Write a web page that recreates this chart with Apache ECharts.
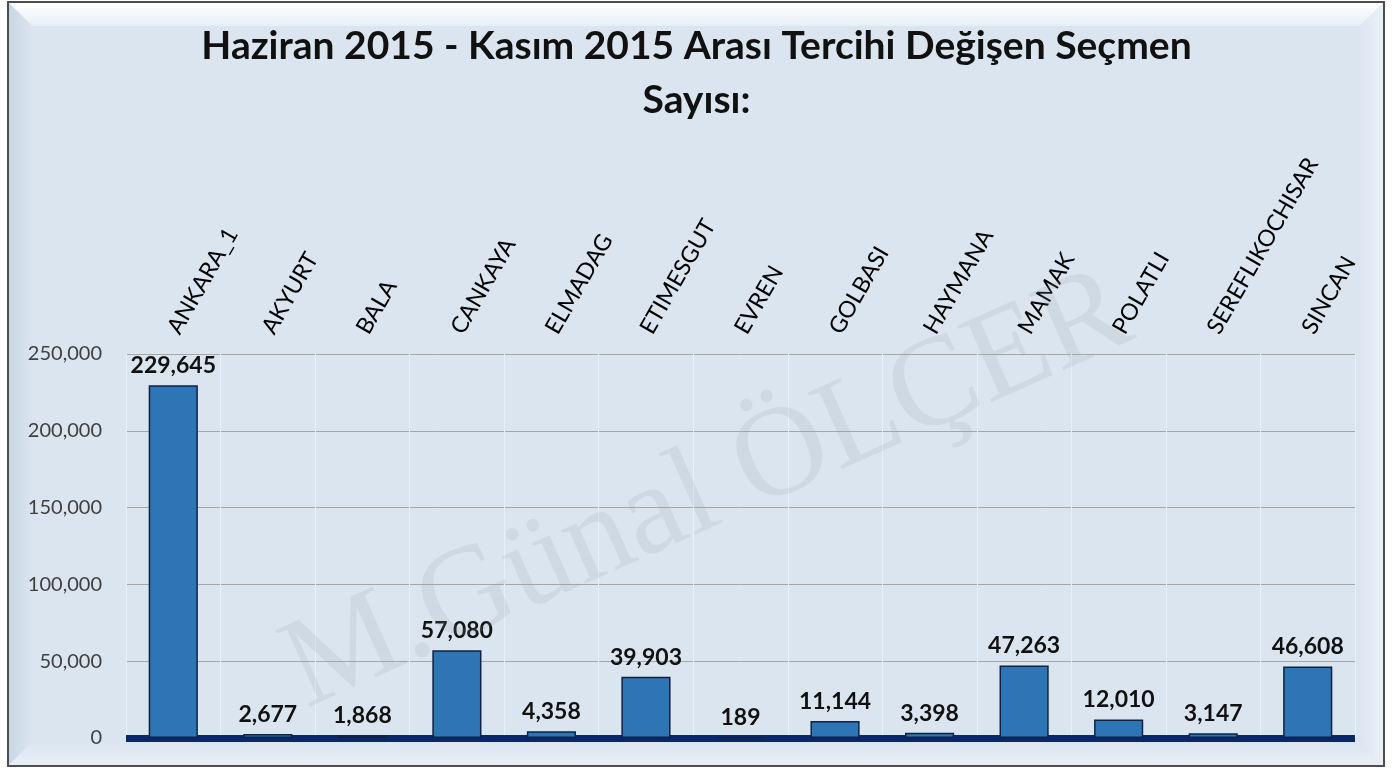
<!DOCTYPE html>
<html>
<head>
<meta charset="utf-8">
<script src="https://cdn.jsdelivr.net/npm/echarts@6/dist/echarts.min.js"></script>
<style>
html,body{margin:0;padding:0;background:#ffffff;}
#chart{width:1393px;height:769px;}
</style>
</head>
<body>
<div id="chart"></div>
<script>
const titleText = 'Haziran 2015 - Kasım 2015 Arası Tercihi Değişen Seçmen\nSayısı:';
const categories = ['ANKARA_1','AKYURT','BALA','CANKAYA','ELMADAG','ETIMESGUT','EVREN','GOLBASI','HAYMANA','MAMAK','POLATLI','SEREFLIKOCHISAR','SINCAN'];
const values = [229645, 2677, 1868, 57080, 4358, 39903, 189, 11144, 3398, 47263, 12010, 3147, 46608];
const yTicks = [0, 50000, 100000, 150000, 200000, 250000];
const watermark = 'M.Günal ÖLÇER';

const fmt = v => v.toLocaleString('en-US');
const chart = echarts.init(document.getElementById('chart'), null, {renderer:'canvas'});
chart.setOption({
  backgroundColor: '#ffffff',
  animation: false,
  graphic: [
    {type:'rect', z:-100, shape:{x:8,y:2,width:1376,height:764}, style:{fill:'#dbe5f0', stroke:'#4d4d4d', lineWidth:2}},
    {type:'polygon', z:-99, shape:{points:[[9,3],[1383,3],[1360,26],[32,26]]},
      style:{fill:new echarts.graphic.LinearGradient(0,0,0,1,[{offset:0,color:'#ffffff'},{offset:1,color:'#e6eef6'}])}},
    {type:'polygon', z:-99, shape:{points:[[9,3],[32,26],[32,742],[9,765]]},
      style:{fill:new echarts.graphic.LinearGradient(0,0,1,0,[{offset:0,color:'#c9d6e4'},{offset:1,color:'#dbe5f0'}])}},
    {type:'polygon', z:-99, shape:{points:[[1383,3],[1383,765],[1360,742],[1360,26]]},
      style:{fill:new echarts.graphic.LinearGradient(0,0,1,0,[{offset:0,color:'#dde7f2'},{offset:1,color:'#e9f0f7'}])}},
    {type:'polygon', z:-99, shape:{points:[[9,765],[1383,765],[1360,742],[32,742]]},
      style:{fill:new echarts.graphic.LinearGradient(0,0,0,1,[{offset:0,color:'#dbe5f0'},{offset:1,color:'#e8eff7'}])}},
    {type:'text', z:100, x:708, y:492, rotation:0.42, silent:true,
      style:{text:watermark, font:'128px "Liberation Serif"', fill:'rgba(150,155,165,0.16)', align:'center', verticalAlign:'middle'}}
  ],
  title: {
    text: titleText, left:'center', top:14,
    textStyle:{fontFamily:'Lato', fontWeight:'bold', fontSize:39, lineHeight:54, color:'#111111'}
  },
  grid: {left:126, right:38, top:354, bottom:31, containLabel:false},
  xAxis: [
    {type:'category', data:categories, position:'top',
      axisLine:{show:false}, axisTick:{show:false},
      axisLabel:{rotate:60, margin:22, interval:0, fontFamily:'Lato', fontSize:23, color:'#000000'},
      splitLine:{show:true, lineStyle:{color:'#e9eff6', width:1}}},
    {type:'category', data:categories, position:'bottom',
      axisLine:{show:true, lineStyle:{color:'#0b2866', width:7, cap:'butt'}}, axisTick:{show:false}, axisLabel:{show:false}}
  ],
  yAxis: {
    type:'value', min:0, max:250000, interval:50000,
    axisLine:{show:false}, axisTick:{show:false},
    axisLabel:{formatter:v=>fmt(v), margin:24, fontFamily:'Lato', fontSize:20, color:'#404040'},
    splitLine:{lineStyle:{color:'#a6a6a6', width:1}}
  },
  series: [{
    type:'bar', data:values, xAxisIndex:1, barWidth:'52%',
    itemStyle:{color:'#2e75b6', borderColor:'#0f2340', borderWidth:1.5},
    label:{show:true, position:'top', distance:8, formatter:p=>fmt(p.value),
      fontFamily:'Lato', fontWeight:'bold', fontSize:23, color:'#111111'}
  }]
});
</script>
</body>
</html>
